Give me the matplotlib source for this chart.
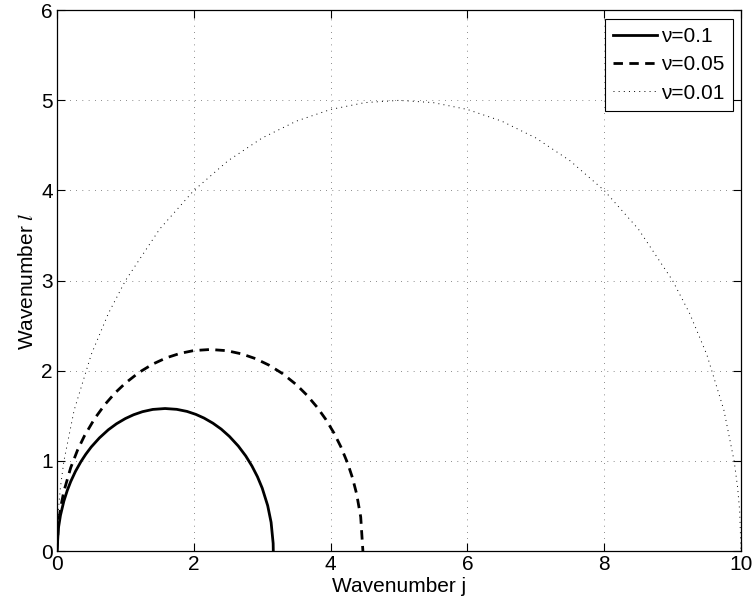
import matplotlib
matplotlib.use('Agg')
from matplotlib import pyplot as plt

plt.rcParams['font.family'] = ['Liberation Sans', 'DejaVu Sans']
plt.rcParams['font.size'] = 15
plt.rcParams['mathtext.fontset'] = 'stix'

# curve points (wavenumber j, wavenumber l)
j_01 = [0, 0.02, 0.05, 0.1, 0.15, 0.2, 0.27, 0.35, 0.42, 0.5, 0.62, 0.75, 0.87, 1.0, 1.12, 1.25, 1.4,
        1.58, 1.75, 1.9, 2.03, 2.15, 2.28, 2.4, 2.52, 2.65, 2.76, 2.85, 2.93, 3.0, 3.08, 3.13, 3.16, 3.162]
l_01 = [0, 0.251, 0.394, 0.553, 0.672, 0.770, 0.884, 0.992, 1.073, 1.154, 1.255, 1.345, 1.412, 1.470, 1.512, 1.546, 1.571,
        1.581, 1.572, 1.549, 1.516, 1.475, 1.418, 1.353, 1.272, 1.165, 1.054, 0.943, 0.825, 0.698, 0.504, 0.318, 0.085, 0]

j_005 = [0, 0.02, 0.05, 0.1, 0.2, 0.3, 0.4, 0.55, 0.7, 0.85, 1.0, 1.2, 1.4, 1.6, 1.8, 2.0, 2.24,
         2.48, 2.7, 2.9, 3.1, 3.3, 3.5, 3.65, 3.8, 3.93, 4.05, 4.15, 4.25, 4.32, 4.38, 4.44, 4.472]
l_005 = [0, 0.298, 0.470, 0.661, 0.924, 1.119, 1.276, 1.469, 1.625, 1.755, 1.863, 1.982, 2.074, 2.144, 2.193, 2.224, 2.236,
         2.223, 2.187, 2.135, 2.062, 1.967, 1.845, 1.732, 1.598, 1.460, 1.308, 1.156, 0.972, 0.811, 0.635, 0.378, 0]

j_001 = [0, 0.02, 0.05, 0.1, 0.25, 0.5, 0.75, 1, 1.5, 2, 2.5, 3, 3.5, 4, 4.5, 5,
         5.5, 6, 6.5, 7, 7.5, 8, 8.5, 9, 9.25, 9.5, 9.75, 9.9, 9.95, 9.98, 10]
l_001 = [0, 0.447, 0.705, 0.995, 1.561, 2.179, 2.634, 3.0, 3.571, 4.0, 4.330, 4.583, 4.770, 4.899, 4.975, 5.0,
         4.975, 4.899, 4.770, 4.583, 4.330, 4.0, 3.571, 3.0, 2.634, 2.179, 1.561, 0.995, 0.705, 0.447, 0]

labels = [u'\u03bd=0.1', u'\u03bd=0.05', u'\u03bd=0.01']

fig = plt.figure(figsize=(7.56, 6.09), dpi=100)
ax = fig.add_axes([0.0754, 0.0952, 0.9048, 0.888])

ax.plot(j_01, l_01, color='k', lw=2.0, label=labels[0])
ax.plot(j_005, l_005, color='k', lw=2.0, dashes=(3.4, 2.3), label=labels[1])
ax.plot(j_001, l_001, color='k', lw=0.7, linestyle=(0, (1, 4.3)), label=labels[2])

ax.set_xlim(0, 10)
ax.set_ylim(0, 6)
ax.set_xticks([0, 2, 4, 6, 8, 10])
ax.set_yticks([0, 1, 2, 3, 4, 5, 6])
ax.grid(True, color='#222222', lw=0.5, linestyle=(0, (1, 8)))
ax.tick_params(direction='in', length=6, width=0.8, top=True, right=True, labelsize=15, pad=3)
for s in ax.spines.values():
    s.set_linewidth(0.9)

ax.set_xlabel('Wavenumber j', labelpad=2)
ax.set_ylabel(r'Wavenumber $l$', labelpad=3)

leg = ax.legend(loc='upper right', fancybox=False, edgecolor='k', framealpha=1, fontsize=15,
                handlelength=2.1, labelspacing=0.45, borderaxespad=0.4, handletextpad=0.2,
                borderpad=0.4)
leg.get_frame().set_linewidth(0.8)

plt.savefig('out.png', dpi=100)
